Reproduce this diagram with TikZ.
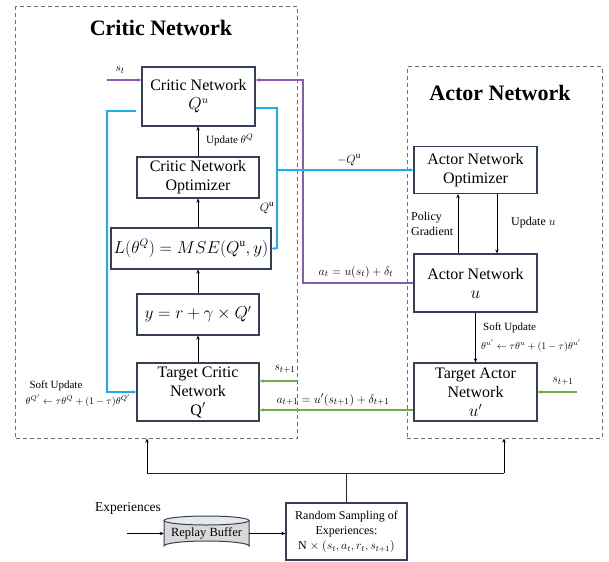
\documentclass[tikz,border=0pt]{standalone}
\usepackage{fontspec}
\setmainfont{Liberation Serif}
\usetikzlibrary{arrows.meta,calc}
\definecolor{boxline}{RGB}{52,64,88}
\definecolor{frameline}{RGB}{100,112,132}
\definecolor{purp}{RGB}{134,92,176}
\definecolor{cyn}{RGB}{30,172,236}
\definecolor{grn}{RGB}{112,173,71}
\tikzset{
  netbox/.style={draw=boxline, line width=1.2pt, fill=white, align=center, inner sep=0pt,
                 font=\fontsize{16}{19}\selectfont},
  frame/.style={draw=frameline, dashed, line width=1pt, dash pattern=on 4pt off 3pt, inner sep=0pt},
  title/.style={font=\fontsize{22}{24}\selectfont\bfseries},
  arr/.style={-{Stealth[length=4pt,width=3.5pt]}, line width=0.9pt, black},
  blk/.style={line width=1pt, black!85},
  parr/.style={arr, draw=purp, line width=1.3pt},
  carr/.style={arr, draw=cyn, line width=1.4pt},
  garr/.style={arr, draw=grn, line width=1.4pt},
  lbl/.style={inner sep=0pt, font=\fontsize{13}{15}\selectfont},
  txt/.style={inner sep=0pt, font=\fontsize{12}{15}\selectfont},
  small/.style={inner sep=0pt, font=\fontsize{11}{13}\selectfont},
  tiny/.style={inner sep=0pt, font=\fontsize{10}{11}\selectfont},
}
\begin{document}
\begin{tikzpicture}[x=1pt,y=-1pt]
\useasboundingbox (0,0) rectangle (609,561);

% dashed frames
\node[frame, minimum width=282pt, minimum height=431pt] (cframe) at (156.5,222.5) {};
\node[frame, minimum width=195pt, minimum height=371pt] (aframe) at (504.5,252.5) {};
\node[title] (ctitle) at (161,28) {Critic Network};
\node[title] (atitle) at (500,93) {Actor Network};

% critic side
\node[netbox, minimum width=113pt, minimum height=59pt] (crit) at (198.5,96.5) {Critic Network\\ $Q^{u}$};
\node[netbox, minimum width=122pt, minimum height=41pt] (copt) at (198,177.5) {Critic Network\\ Optimizer};
\node[netbox, minimum width=160pt, minimum height=41pt] (loss) at (191,248.5) {$L(\theta^{Q}) = MSE(Q^{\mathrm{u}}, y)$};
\node[netbox, minimum width=122pt, minimum height=41pt] (ybox) at (198,314.5) {$y = r + \gamma \times Q'$};
\node[netbox, minimum width=122pt, minimum height=58pt, font=\fontsize{16}{19}\selectfont] (tcrit) at (198,392) {Target Critic\\ Network\\ Q$'$};

% actor side
\node[netbox, minimum width=123pt, minimum height=47pt] (aopt) at (475.5,170) {Actor Network\\ Optimizer};
\node[netbox, minimum width=123pt, minimum height=58pt] (actor) at (475.5,283) {Actor Network\\ $u$};
\node[netbox, minimum width=123pt, minimum height=58pt, font=\fontsize{16}{19}\selectfont] (tactor) at (475.5,392) {Target Actor\\ Network\\ $u'$};

% replay buffer cylinder
\fill[gray!30] (164,520.5) -- (164,546) arc[start angle=180, end angle=360, x radius=42.5, y radius=5] -- (249,520.5) arc[start angle=0, end angle=180, x radius=42.5, y radius=4.5] -- cycle;
\draw[boxline, line width=1pt] (164,520.5) -- (164,546) arc[start angle=180, end angle=360, x radius=42.5, y radius=5] -- (249,520.5);
\draw[boxline, line width=1pt, fill=gray!18] (206.5,520.5) ellipse[x radius=42.5, y radius=4.5];
\node[inner sep=0pt, minimum width=85pt, minimum height=35pt, font=\fontsize{12.5}{14}\selectfont] (rb) at (206.5,533.5) {\raisebox{-4pt}{Replay Buffer}};

\node[netbox, minimum width=121pt, minimum height=57pt, font=\fontsize{12}{15}\selectfont] (rand) at (346.5,531.5) {Random Sampling of\\ Experiences:\\ N $\times$ $(s_t, a_t, r_t, s_{t+1})$};

% critic internal arrows
\draw[arr] (copt.north) -- (copt.north |- crit.south);
\draw[arr] (copt.south |- loss.north) -- (copt.south);
\draw[arr] (ybox.north) -- (ybox.north |- loss.south);
\draw[arr] (tcrit.north) -- (ybox.south);
\node[small, anchor=west] (updq) at (206,140) {Update $\theta^{Q}$};

% actor internal arrows
\coordinate (pgx) at (458,0);
\coordinate (upx) at (497,0);
\draw[arr] (pgx |- actor.north) -- (pgx |- aopt.south);
\draw[arr] (upx |- aopt.south) -- (upx |- actor.north);
\node[txt, anchor=west, align=left] (pglbl) at (411,224) {Policy\\ Gradient};
\node[txt, anchor=west] (uplbl) at (511,223) {Update $u$};
\draw[arr] (actor.south) -- (tactor.north);
\node[small, anchor=west] (asoft) at (483,328) {Soft Update};
\node[tiny, anchor=west] (aform) at (481,346) {$\theta^{u'} \leftarrow \tau\theta^{u} + (1-\tau)\theta^{u'}$};

% purple: state and action into critic
\coordinate (st) at (107,80);
\coordinate (pv) at (303,0);
\draw[parr] (st) -- (crit.west |- st);
\node[lbl] (stlbl) at (120,70) {$s_t$};
\draw[parr] (actor.west) -- (actor.west -| pv) -- (pv |- st) -- (crit.east |- st);
\node[lbl] (atlbl) at (356,272) {$a_t = u(s_t) + \delta_t$};

% cyan: Q value to loss and actor optimizer
\coordinate (cv) at (277,0);
\coordinate (cy) at (0,108);
\draw[carr] (crit.east |- cy) -- (cv |- cy) -- (cv |- loss.east) -- (loss.east);
\draw[carr] (cv |- aopt.west) -- (aopt.west);
\node[lbl] (qlbl) at (267,208) {$Q^{\mathrm{u}}$};
\node[lbl] (nqlbl) at (349,160) {$-Q^{\mathrm{u}}$};

% cyan: soft update of the target critic
\coordinate (lv) at (107,0);
\coordinate (ly) at (0,111);
\draw[carr] ($(crit.west |- ly)+(-5,0)$) -- (lv |- ly) -- (lv |- tcrit.west) -- (tcrit.west);
\node[small] (csoft) at (56,386) {Soft Update};
\node[tiny] (cform) at (78,401) {$\theta^{Q'} \leftarrow \tau\theta^{Q} + (1-\tau)\theta^{Q'}$};

% green: next state and next action
\coordinate (gs) at (297,381);
\coordinate (ga) at (0,410);
\coordinate (gs2) at (577,392);
\draw[garr] (gs) -- (tcrit.east |- gs);
\node[lbl] (s1lbl) at (285,369) {$s_{t+1}$};
\draw[garr] (tactor.west |- ga) -- (tcrit.east |- ga);
\node[lbl] (a1lbl) at (333,400) {$a_{t+1} = u'(s_{t+1}) + \delta_{t+1}$};
\draw[garr] (gs2) -- (tactor.east);
\node[lbl] (s2lbl) at (563,381) {$s_{t+1}$};

% sampling bus
\coordinate (cj) at (147,473);
\coordinate (aj) at (504,473);
\draw[blk] (cj) -- (aj);
\draw[blk] (rand.north) -- (rand.north |- cj);
\draw[arr, line width=1pt] (cj) -- (cj |- cframe.south);
\draw[arr, line width=1pt] (aj) -- (aj |- aframe.south);

% experiences into buffer
\coordinate (expin) at (127,533.5);
\node[inner sep=0pt, font=\fontsize{13.5}{15}\selectfont] (explbl) at (128,508) {Experiences};
\draw[arr] (expin) -- (rb.west);
\draw[arr] (rb.east) -- (rand.west |- rb.east);
\end{tikzpicture}
\end{document}
